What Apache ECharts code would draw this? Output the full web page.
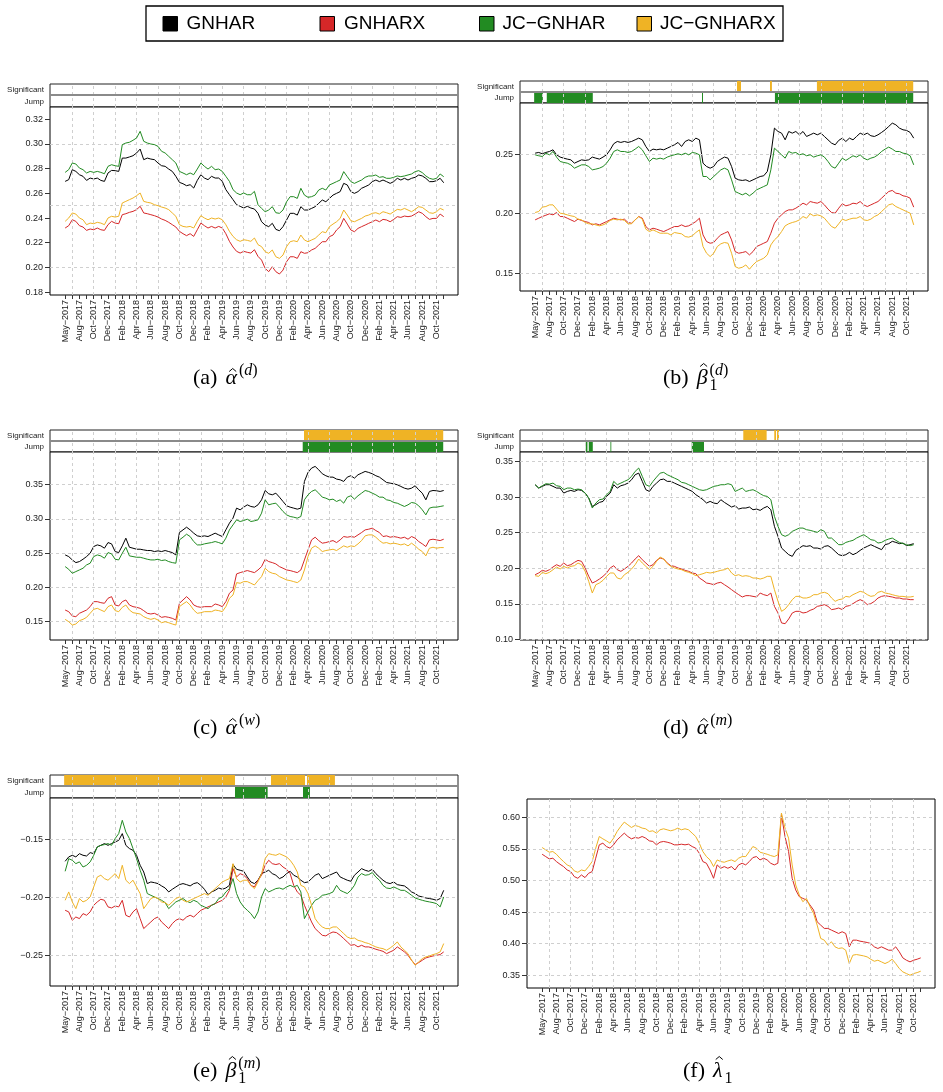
<!DOCTYPE html>
<html><head><meta charset="utf-8">
<script src="https://cdn.jsdelivr.net/npm/echarts@6/dist/echarts.min.js"></script>
<style>html,body{margin:0;padding:0;background:#fff}#chart{width:943px;height:1092px}</style>
</head><body><div id="chart"></div>
<script>
// ---------- time index: months after the "May-2017" tick, half-month steps ----------
const t = Array.from({length: 107}, (_, i) => i / 2);
const xLabels = ['May−2017','Aug−2017','Oct−2017','Dec−2017','Feb−2018','Apr−2018','Jun−2018','Aug−2018','Oct−2018','Dec−2018','Feb−2019','Apr−2019','Jun−2019','Aug−2019','Oct−2019','Dec−2019','Feb−2020','Apr−2020','Jun−2020','Aug−2020','Oct−2020','Dec−2020','Feb−2021','Apr−2021','Jun−2021','Aug−2021','Oct−2021'];
const tickMonths = Array.from({length: 54}, (_, i) => i);
const labelMonths = xLabels.map((_, i) => 2 * i);
const gridMonths = [1,4,7,10,13,16,19,22,25,28,31,34,37,40,43,46,49,52];

// ---------- (a) alpha^(d) ----------
const A_GNHAR = [0.2697,0.2711,0.2792,0.2778,0.2751,0.2738,0.2705,0.2724,0.2716,0.2724,0.2705,0.2697,0.2765,0.2786,0.2784,0.2778,0.2886,0.2886,0.2895,0.2905,0.2927,0.2959,0.2873,0.2886,0.2878,0.2873,0.2846,0.2824,0.2819,0.2797,0.2778,0.2738,0.2689,0.2678,0.2662,0.2670,0.2643,0.2705,0.2751,0.2724,0.2711,0.2738,0.2724,0.2724,0.2697,0.2630,0.2589,0.2549,0.2508,0.2495,0.2481,0.2495,0.2481,0.2473,
0.2438,0.2370,0.2343,0.2330,0.2357,0.2308,0.2297,0.2330,0.2384,0.2438,0.2438,0.2424,0.2492,0.2465,0.2465,0.2478,0.2492,0.2519,0.2546,0.2532,0.2559,0.2586,0.2600,0.2614,0.2681,0.2668,0.2614,0.2600,0.2614,0.2641,0.2654,0.2668,0.2695,0.2708,0.2695,0.2708,0.2695,0.2681,0.2695,0.2722,0.2708,0.2722,0.2708,0.2722,0.2730,0.2749,0.2741,0.2722,0.2695,0.2695,0.2703,0.2722,0.2686];
const A_GNHARX = [0.2319,0.2338,0.2386,0.2373,0.2338,0.2327,0.2300,0.2311,0.2305,0.2319,0.2305,0.2300,0.2346,0.2373,0.2359,0.2354,0.2427,0.2435,0.2446,0.2454,0.2468,0.2495,0.2441,0.2435,0.2427,0.2419,0.2408,0.2392,0.2381,0.2365,0.2346,0.2327,0.2292,0.2273,0.2257,0.2273,0.2251,0.2305,0.2359,0.2338,0.2319,0.2332,0.2319,0.2332,0.2319,0.2273,0.2211,0.2165,0.2130,0.2116,0.2130,0.2122,0.2116,0.2143,
0.2089,0.2059,0.1992,0.1965,0.2005,0.1965,0.1946,0.1978,0.2046,0.2086,0.2086,0.2073,0.2127,0.2114,0.2119,0.2141,0.2154,0.2181,0.2208,0.2208,0.2249,0.2262,0.2303,0.2330,0.2397,0.2351,0.2303,0.2289,0.2316,0.2330,0.2343,0.2357,0.2370,0.2384,0.2370,0.2389,0.2384,0.2370,0.2389,0.2411,0.2405,0.2416,0.2411,0.2416,0.2432,0.2451,0.2438,0.2411,0.2389,0.2397,0.2397,0.2432,0.2411];
const A_JC_GNHAR = [0.2770,0.2792,0.2846,0.2838,0.2805,0.2792,0.2765,0.2778,0.2770,0.2778,0.2770,0.2759,0.2819,0.2832,0.2824,0.2819,0.2995,0.3008,0.3014,0.3030,0.3049,0.3103,0.3022,0.3008,0.3000,0.2995,0.2981,0.2941,0.2927,0.2900,0.2873,0.2846,0.2778,0.2765,0.2751,0.2765,0.2751,0.2797,0.2846,0.2819,0.2797,0.2819,0.2792,0.2797,0.2778,0.2738,0.2697,0.2630,0.2603,0.2589,0.2603,0.2589,0.2589,0.2616,
0.2508,0.2478,0.2451,0.2465,0.2492,0.2443,0.2438,0.2465,0.2532,0.2573,0.2573,0.2559,0.2641,0.2586,0.2568,0.2573,0.2586,0.2627,0.2641,0.2627,0.2668,0.2681,0.2695,0.2708,0.2776,0.2735,0.2695,0.2681,0.2695,0.2708,0.2730,0.2741,0.2741,0.2749,0.2730,0.2735,0.2722,0.2722,0.2730,0.2741,0.2735,0.2741,0.2749,0.2757,0.2776,0.2784,0.2768,0.2741,0.2722,0.2714,0.2722,0.2757,0.2735];
const A_JC_GNHARX = [0.2373,0.2400,0.2441,0.2432,0.2400,0.2386,0.2346,0.2359,0.2354,0.2365,0.2359,0.2346,0.2400,0.2414,0.2408,0.2414,0.2522,0.2535,0.2549,0.2562,0.2581,0.2603,0.2535,0.2527,0.2522,0.2508,0.2500,0.2489,0.2481,0.2468,0.2441,0.2414,0.2346,0.2332,0.2327,0.2332,0.2319,0.2373,0.2419,0.2400,0.2386,0.2400,0.2392,0.2400,0.2386,0.2346,0.2292,0.2251,0.2224,0.2211,0.2224,0.2219,0.2211,0.2238,
0.2184,0.2168,0.2127,0.2114,0.2141,0.2086,0.2073,0.2100,0.2168,0.2208,0.2216,0.2208,0.2262,0.2222,0.2208,0.2222,0.2235,0.2262,0.2289,0.2281,0.2330,0.2351,0.2370,0.2397,0.2465,0.2424,0.2378,0.2370,0.2384,0.2397,0.2416,0.2424,0.2438,0.2443,0.2432,0.2451,0.2443,0.2432,0.2451,0.2470,0.2465,0.2478,0.2465,0.2451,0.2470,0.2492,0.2486,0.2465,0.2443,0.2438,0.2451,0.2478,0.2465];
const A_SIG = [];
const A_JUMP = [];

// ---------- (b) beta1^(d) ----------
const B_GNHAR = [0.2508,0.2514,0.2503,0.2514,0.2522,0.2536,0.2494,0.2475,0.2466,0.2458,0.2452,0.2424,0.2438,0.2452,0.2447,0.2452,0.2475,0.2466,0.2458,0.2475,0.2494,0.2536,0.2587,0.2606,0.2598,0.2606,0.2598,0.2606,0.2620,0.2634,0.2620,0.2564,0.2522,0.2542,0.2536,0.2542,0.2536,0.2550,0.2564,0.2578,0.2598,0.2564,0.2606,0.2620,0.2606,0.2634,0.2620,0.2424,0.2396,0.2382,0.2396,0.2438,0.2458,0.2475,0.2466,0.2396,0.2298,0.2284,0.2279,0.2284,0.2270,0.2284,0.2298,0.2312,0.2318,0.2354,0.2494,0.2718,0.2690,0.2676,0.2620,0.2690,0.2676,0.2690,0.2662,0.2690,0.2648,0.2662,0.2676,0.2662,0.2676,0.2648,0.2620,0.2592,0.2578,0.2615,0.2634,0.2606,0.2634,0.2620,0.2648,0.2676,0.2662,0.2676,0.2654,0.2648,0.2662,0.2682,0.2704,0.2732,0.2760,0.2746,0.2718,0.2704,0.2699,0.2682,0.2634];
const B_GNHARX = [0.1948,0.1962,0.1976,0.1987,0.1999,0.1990,0.2010,0.1976,0.1976,0.1962,0.1948,0.1934,0.1954,0.1943,0.1934,0.1926,0.1906,0.1915,0.1906,0.1920,0.1934,0.1948,0.1962,0.1954,0.1948,0.1954,0.1926,0.1920,0.1948,0.1976,0.1962,0.1892,0.1864,0.1878,0.1870,0.1859,0.1850,0.1864,0.1878,0.1892,0.1892,0.1906,0.1892,0.1898,0.1915,0.1934,0.1962,0.1822,0.1766,0.1752,0.1758,0.1794,0.1822,0.1836,0.1850,0.1780,0.1682,0.1668,0.1674,0.1682,0.1654,0.1682,0.1724,0.1738,0.1752,0.1766,0.1836,0.1920,0.1962,0.1990,0.2018,0.2032,0.2032,0.2046,0.2066,0.2088,0.2074,0.2102,0.2094,0.2088,0.2102,0.2074,0.2038,0.2010,0.2004,0.2046,0.2083,0.2066,0.2074,0.2088,0.2083,0.2102,0.2074,0.2060,0.2074,0.2088,0.2102,0.2130,0.2158,0.2186,0.2195,0.2172,0.2167,0.2150,0.2144,0.2130,0.2055];
const B_JC_GNHAR = [0.2494,0.2486,0.2480,0.2508,0.2494,0.2522,0.2475,0.2438,0.2430,0.2424,0.2410,0.2382,0.2396,0.2410,0.2410,0.2396,0.2368,0.2374,0.2382,0.2396,0.2424,0.2466,0.2522,0.2536,0.2522,0.2522,0.2514,0.2522,0.2542,0.2564,0.2536,0.2486,0.2438,0.2466,0.2458,0.2466,0.2458,0.2475,0.2486,0.2494,0.2503,0.2494,0.2508,0.2494,0.2514,0.2508,0.2494,0.2312,0.2312,0.2284,0.2312,0.2340,0.2368,0.2382,0.2368,0.2284,0.2186,0.2172,0.2158,0.2172,0.2150,0.2172,0.2200,0.2214,0.2228,0.2242,0.2368,0.2550,0.2522,0.2494,0.2466,0.2522,0.2508,0.2514,0.2494,0.2503,0.2486,0.2494,0.2475,0.2486,0.2494,0.2475,0.2438,0.2396,0.2382,0.2424,0.2466,0.2447,0.2466,0.2486,0.2475,0.2494,0.2466,0.2452,0.2466,0.2475,0.2494,0.2522,0.2542,0.2559,0.2542,0.2522,0.2522,0.2508,0.2503,0.2486,0.2410];
const B_JC_GNHARX = [0.2010,0.2018,0.2055,0.2060,0.2074,0.2074,0.2038,0.2004,0.1999,0.1990,0.1982,0.1976,0.1954,0.1948,0.1926,0.1915,0.1915,0.1906,0.1898,0.1906,0.1920,0.1943,0.1954,0.1948,0.1954,0.1943,0.1915,0.1915,0.1948,0.1976,0.1954,0.1870,0.1850,0.1864,0.1850,0.1836,0.1836,0.1836,0.1822,0.1842,0.1836,0.1831,0.1808,0.1803,0.1814,0.1842,0.1864,0.1724,0.1668,0.1640,0.1668,0.1724,0.1747,0.1758,0.1752,0.1668,0.1556,0.1542,0.1550,0.1570,0.1534,0.1570,0.1598,0.1612,0.1626,0.1654,0.1738,0.1780,0.1808,0.1850,0.1898,0.1915,0.1926,0.1934,0.1948,0.1976,0.1962,0.1999,0.1982,0.1990,0.1982,0.1962,0.1926,0.1892,0.1878,0.1915,0.1954,0.1943,0.1954,0.1962,0.1962,0.1976,0.1948,0.1943,0.1954,0.1976,0.1990,0.2018,0.2046,0.2074,0.2083,0.2060,0.2046,0.2032,0.2018,0.2004,0.1906];
const B_SIG = [[28.26,28.82],[32.88,33.15],[39.45,52.93]];
const B_JUMP = [[-0.14,1.08],[1.63,8.07],[23.36,23.5],[33.57,52.93]];

// ---------- (c) alpha^(w) ----------
const C_GNHAR = [0.2473,0.2449,0.2400,0.2361,0.2376,0.2410,0.2449,0.2498,0.2595,0.2619,0.2605,0.2571,0.2653,0.2634,0.2522,0.2507,0.2605,0.2717,0.2585,0.2571,0.2556,0.2556,0.2546,0.2537,0.2537,0.2522,0.2532,0.2522,0.2537,0.2522,0.2507,0.2473,0.2799,0.2838,0.2877,0.2838,0.2790,0.2751,0.2741,0.2751,0.2741,0.2765,0.2790,0.2765,0.2741,0.2838,0.2936,0.3009,0.3155,0.3130,0.3169,0.3203,0.3179,0.3169,0.3203,0.3276,0.3412,0.3364,0.3349,0.3373,0.3315,0.3252,0.3189,0.3169,0.3155,0.3140,0.3155,0.3544,0.3675,0.3738,0.3763,0.3714,0.3656,0.3627,0.3607,0.3607,0.3578,0.3568,0.3544,0.3607,0.3627,0.3592,0.3641,0.3665,0.3690,0.3675,0.3656,0.3627,0.3607,0.3568,0.3529,0.3519,0.3510,0.3495,0.3471,0.3446,0.3432,0.3446,0.3481,0.3422,0.3373,0.3276,0.3398,0.3412,0.3408,0.3398,0.3412];
const C_GNHARX = [0.1670,0.1646,0.1583,0.1573,0.1622,0.1646,0.1670,0.1719,0.1792,0.1792,0.1777,0.1768,0.1841,0.1865,0.1743,0.1729,0.1792,0.1816,0.1743,0.1719,0.1709,0.1695,0.1661,0.1622,0.1612,0.1622,0.1597,0.1563,0.1573,0.1563,0.1549,0.1524,0.1768,0.1816,0.1865,0.1816,0.1743,0.1719,0.1709,0.1719,0.1719,0.1719,0.1758,0.1743,0.1719,0.1792,0.1914,0.1962,0.2196,0.2215,0.2230,0.2245,0.2230,0.2215,0.2254,0.2303,0.2410,0.2376,0.2361,0.2342,0.2303,0.2279,0.2254,0.2245,0.2230,0.2215,0.2254,0.2400,0.2546,0.2692,0.2731,0.2682,0.2644,0.2653,0.2668,0.2682,0.2653,0.2692,0.2741,0.2731,0.2741,0.2731,0.2765,0.2799,0.2838,0.2848,0.2863,0.2828,0.2799,0.2741,0.2751,0.2731,0.2741,0.2731,0.2717,0.2731,0.2702,0.2741,0.2717,0.2668,0.2634,0.2595,0.2692,0.2702,0.2692,0.2682,0.2702];
const C_JC_GNHAR = [0.2303,0.2264,0.2206,0.2230,0.2254,0.2279,0.2327,0.2352,0.2449,0.2473,0.2459,0.2425,0.2507,0.2488,0.2410,0.2400,0.2498,0.2585,0.2459,0.2449,0.2439,0.2439,0.2425,0.2410,0.2400,0.2400,0.2410,0.2391,0.2400,0.2376,0.2361,0.2352,0.2692,0.2731,0.2775,0.2741,0.2668,0.2619,0.2619,0.2634,0.2644,0.2653,0.2668,0.2653,0.2634,0.2717,0.2838,0.2911,0.2984,0.2960,0.2974,0.2994,0.2960,0.2970,0.2984,0.3082,0.3276,0.3203,0.3218,0.3227,0.3169,0.3106,0.3057,0.3033,0.3023,0.3009,0.3033,0.3276,0.3349,0.3398,0.3422,0.3373,0.3315,0.3300,0.3276,0.3286,0.3252,0.3276,0.3227,0.3315,0.3335,0.3286,0.3335,0.3373,0.3412,0.3398,0.3373,0.3349,0.3315,0.3315,0.3276,0.3266,0.3237,0.3227,0.3203,0.3179,0.3203,0.3237,0.3227,0.3189,0.3130,0.3057,0.3155,0.3169,0.3169,0.3179,0.3189];
const C_JC_GNHARX = [0.1534,0.1500,0.1451,0.1466,0.1515,0.1534,0.1563,0.1622,0.1680,0.1695,0.1670,0.1646,0.1719,0.1743,0.1661,0.1646,0.1709,0.1743,0.1670,0.1631,0.1622,0.1612,0.1573,0.1549,0.1534,0.1549,0.1524,0.1485,0.1500,0.1485,0.1466,0.1451,0.1719,0.1758,0.1792,0.1743,0.1670,0.1622,0.1631,0.1646,0.1646,0.1646,0.1670,0.1661,0.1646,0.1719,0.1841,0.1889,0.2069,0.2060,0.2084,0.2084,0.2060,0.2035,0.2099,0.2157,0.2279,0.2230,0.2206,0.2196,0.2157,0.2133,0.2108,0.2099,0.2084,0.2069,0.2108,0.2254,0.2449,0.2571,0.2605,0.2571,0.2522,0.2537,0.2546,0.2556,0.2537,0.2571,0.2605,0.2585,0.2605,0.2595,0.2634,0.2682,0.2751,0.2765,0.2765,0.2731,0.2682,0.2644,0.2653,0.2634,0.2644,0.2634,0.2619,0.2634,0.2605,0.2644,0.2605,0.2556,0.2522,0.2459,0.2571,0.2585,0.2571,0.2580,0.2580];
const C_SIG = [[33.44,52.93]];
const C_JUMP = [[33.26,52.93]];

// ---------- (d) alpha^(m) ----------
const D_GNHAR = [0.3173,0.3126,0.3150,0.3173,0.3173,0.3150,0.3126,0.3126,0.3056,0.3079,0.3093,0.3079,0.3103,0.3093,0.3056,0.2986,0.2869,0.2893,0.2925,0.2939,0.3009,0.3056,0.3173,0.3126,0.3159,0.3173,0.3196,0.3243,0.3313,0.3336,0.3220,0.3103,0.3079,0.3150,0.3196,0.3243,0.3252,0.3220,0.3220,0.3196,0.3173,0.3150,0.3126,0.3103,0.3079,0.3033,0.3000,0.2963,0.2916,0.2939,0.2916,0.2907,0.2963,0.2925,0.2893,0.2860,0.2879,0.2832,0.2846,0.2846,0.2860,0.2822,0.2832,0.2813,0.2846,0.2869,0.2822,0.2589,0.2449,0.2285,0.2238,0.2192,0.2168,0.2252,0.2285,0.2318,0.2308,0.2318,0.2285,0.2285,0.2271,0.2308,0.2318,0.2285,0.2238,0.2192,0.2178,0.2192,0.2224,0.2192,0.2215,0.2252,0.2285,0.2308,0.2332,0.2308,0.2285,0.2262,0.2332,0.2346,0.2379,0.2364,0.2346,0.2355,0.2318,0.2332,0.2346];
const D_GNHARX = [0.1911,0.1935,0.1972,0.1958,0.1981,0.2019,0.2051,0.2028,0.2075,0.2037,0.2051,0.2084,0.2112,0.2098,0.2005,0.1888,0.1794,0.1818,0.1850,0.1888,0.1935,0.2005,0.2037,0.1981,0.1958,0.1991,0.2028,0.2075,0.2131,0.2178,0.2121,0.2075,0.2028,0.2051,0.2112,0.2145,0.2131,0.2075,0.2037,0.2028,0.2005,0.1991,0.1972,0.1958,0.1935,0.1925,0.1864,0.1832,0.1794,0.1785,0.1771,0.1794,0.1804,0.1771,0.1738,0.1701,0.1664,0.1631,0.1598,0.1617,0.1617,0.1607,0.1598,0.1654,0.1631,0.1617,0.1654,0.1467,0.1374,0.1234,0.1224,0.1290,0.1374,0.1397,0.1397,0.1374,0.1383,0.1411,0.1430,0.1467,0.1477,0.1491,0.1467,0.1421,0.1430,0.1444,0.1421,0.1467,0.1477,0.1505,0.1537,0.1561,0.1537,0.1491,0.1505,0.1537,0.1584,0.1607,0.1617,0.1607,0.1598,0.1584,0.1584,0.1570,0.1570,0.1561,0.1561];
const D_JC_GNHAR = [0.3173,0.3126,0.3159,0.3187,0.3182,0.3196,0.3159,0.3150,0.3103,0.3126,0.3126,0.3103,0.3112,0.3103,0.3056,0.2986,0.2846,0.2916,0.2963,0.2972,0.3033,0.3079,0.3220,0.3173,0.3196,0.3220,0.3243,0.3290,0.3360,0.3407,0.3290,0.3173,0.3150,0.3220,0.3280,0.3336,0.3346,0.3313,0.3290,0.3266,0.3243,0.3206,0.3196,0.3173,0.3150,0.3126,0.3103,0.3093,0.3103,0.3126,0.3150,0.3159,0.3173,0.3173,0.3187,0.3173,0.3079,0.3103,0.3126,0.3079,0.3093,0.3103,0.3079,0.3047,0.3019,0.3009,0.2963,0.2729,0.2589,0.2472,0.2449,0.2472,0.2519,0.2542,0.2565,0.2565,0.2542,0.2533,0.2519,0.2505,0.2542,0.2519,0.2425,0.2425,0.2379,0.2332,0.2332,0.2364,0.2379,0.2393,0.2425,0.2449,0.2472,0.2439,0.2402,0.2393,0.2355,0.2364,0.2393,0.2411,0.2425,0.2393,0.2364,0.2346,0.2332,0.2318,0.2332];
const D_JC_GNHARX = [0.1897,0.1888,0.1944,0.1925,0.1944,0.1981,0.2019,0.1991,0.2028,0.2005,0.2028,0.2037,0.2075,0.2051,0.1958,0.1818,0.1654,0.1771,0.1794,0.1832,0.1888,0.1935,0.1935,0.1864,0.1850,0.1911,0.1944,0.1991,0.2051,0.2131,0.2075,0.2028,0.1981,0.2028,0.2098,0.2159,0.2131,0.2065,0.2028,0.2005,0.1991,0.1981,0.1958,0.1944,0.1925,0.1897,0.1911,0.1925,0.1944,0.1935,0.1944,0.1958,0.1972,0.1981,0.2005,0.1935,0.1897,0.1911,0.1888,0.1897,0.1888,0.1864,0.1864,0.1850,0.1864,0.1888,0.1888,0.1701,0.1537,0.1397,0.1430,0.1491,0.1561,0.1607,0.1607,0.1584,0.1584,0.1598,0.1631,0.1631,0.1654,0.1664,0.1645,0.1584,0.1537,0.1561,0.1570,0.1607,0.1598,0.1631,0.1654,0.1678,0.1664,0.1631,0.1607,0.1617,0.1664,0.1678,0.1654,0.1645,0.1631,0.1617,0.1607,0.1607,0.1598,0.1598,0.1607];
const D_SIG = [[29.14,32.41],[33.48,33.72],[33.86,34.14]];
const D_JUMP = [[7.09,7.32],[7.51,8.07],[10.54,10.66],[21.92,23.64]];

// ---------- (e) beta1^(m) ----------
const E_GNHAR = [-0.1690,-0.1652,-0.1638,-0.1652,-0.1624,-0.1638,-0.1644,-0.1615,-0.1624,-0.1566,-0.1552,-0.1537,-0.1552,-0.1537,-0.1523,-0.1509,-0.1451,-0.1552,-0.1580,-0.1595,-0.1638,-0.1724,-0.1782,-0.1882,-0.1868,-0.1874,-0.1882,-0.1902,-0.1920,-0.1954,-0.1931,-0.1911,-0.1891,-0.1882,-0.1891,-0.1902,-0.1882,-0.1874,-0.1897,-0.1931,-0.1977,-0.1954,-0.1940,-0.1920,-0.1931,-0.1920,-0.1897,-0.1718,-0.1759,-0.1767,-0.1776,-0.1825,-0.1868,-0.1882,-0.1853,-0.1796,-0.1782,-0.1767,-0.1796,-0.1810,-0.1839,-0.1825,-0.1796,-0.1776,-0.1810,-0.1825,-0.1853,-0.1874,-0.1868,-0.1839,-0.1810,-0.1796,-0.1839,-0.1825,-0.1810,-0.1796,-0.1782,-0.1825,-0.1839,-0.1853,-0.1862,-0.1810,-0.1782,-0.1753,-0.1767,-0.1776,-0.1759,-0.1796,-0.1825,-0.1853,-0.1874,-0.1882,-0.1868,-0.1891,-0.1897,-0.1902,-0.1925,-0.1954,-0.1968,-0.1989,-0.1997,-0.2006,-0.2011,-0.2017,-0.2026,-0.2011,-0.1940];
const E_GNHARX = [-0.2112,-0.2126,-0.2198,-0.2170,-0.2184,-0.2141,-0.2155,-0.2126,-0.2069,-0.2040,-0.2017,-0.2026,-0.2083,-0.2092,-0.2075,-0.2083,-0.2026,-0.2155,-0.2170,-0.2126,-0.2098,-0.2184,-0.2270,-0.2241,-0.2213,-0.2184,-0.2170,-0.2213,-0.2241,-0.2270,-0.2227,-0.2198,-0.2184,-0.2198,-0.2170,-0.2155,-0.2170,-0.2141,-0.2112,-0.2098,-0.2083,-0.2069,-0.2055,-0.2040,-0.2026,-0.1997,-0.1940,-0.1753,-0.1825,-0.1796,-0.1810,-0.1839,-0.1897,-0.1911,-0.1853,-0.1810,-0.1724,-0.1681,-0.1710,-0.1718,-0.1710,-0.1739,-0.1759,-0.1796,-0.1897,-0.1954,-0.1983,-0.2069,-0.2141,-0.2213,-0.2270,-0.2299,-0.2328,-0.2333,-0.2313,-0.2299,-0.2305,-0.2328,-0.2356,-0.2385,-0.2414,-0.2408,-0.2428,-0.2414,-0.2428,-0.2428,-0.2437,-0.2448,-0.2457,-0.2466,-0.2486,-0.2471,-0.2457,-0.2428,-0.2448,-0.2471,-0.2500,-0.2543,-0.2580,-0.2563,-0.2543,-0.2523,-0.2514,-0.2506,-0.2500,-0.2494,-0.2471];
const E_JC_GNHAR = [-0.1776,-0.1667,-0.1681,-0.1710,-0.1695,-0.1739,-0.1724,-0.1695,-0.1638,-0.1566,-0.1552,-0.1546,-0.1537,-0.1552,-0.1494,-0.1451,-0.1336,-0.1437,-0.1494,-0.1580,-0.1667,-0.1767,-0.1853,-0.1968,-0.1983,-0.1997,-0.2011,-0.2026,-0.2046,-0.2098,-0.2069,-0.2040,-0.2026,-0.2011,-0.2034,-0.2046,-0.2026,-0.2040,-0.2069,-0.2083,-0.2098,-0.2069,-0.2055,-0.2011,-0.1997,-0.1954,-0.1925,-0.1839,-0.1968,-0.2040,-0.2083,-0.2112,-0.2141,-0.2184,-0.2126,-0.1997,-0.1925,-0.1954,-0.1940,-0.1925,-0.1920,-0.1931,-0.1911,-0.1897,-0.1911,-0.1897,-0.1954,-0.2184,-0.2126,-0.2069,-0.2026,-0.2011,-0.1983,-0.1977,-0.1968,-0.1954,-0.1897,-0.1940,-0.1954,-0.1968,-0.1940,-0.1897,-0.1825,-0.1796,-0.1810,-0.1805,-0.1787,-0.1825,-0.1853,-0.1897,-0.1920,-0.1925,-0.1911,-0.1925,-0.1940,-0.1940,-0.1960,-0.1983,-0.2006,-0.2017,-0.2026,-0.2034,-0.2040,-0.2046,-0.2055,-0.2083,-0.1997];
const E_JC_GNHARX = [-0.2026,-0.1954,-0.2040,-0.2098,-0.2011,-0.2040,-0.2026,-0.1997,-0.1911,-0.1825,-0.1810,-0.1839,-0.1853,-0.1825,-0.1796,-0.1839,-0.1724,-0.1853,-0.1882,-0.1853,-0.1911,-0.1968,-0.2098,-0.2055,-0.2011,-0.1997,-0.2011,-0.2040,-0.2046,-0.2069,-0.2040,-0.2011,-0.1997,-0.2026,-0.2040,-0.2026,-0.2011,-0.1997,-0.1983,-0.1968,-0.1983,-0.1954,-0.1925,-0.1897,-0.1868,-0.1853,-0.1839,-0.1710,-0.1839,-0.1868,-0.1853,-0.1853,-0.1897,-0.1925,-0.1868,-0.1796,-0.1667,-0.1624,-0.1632,-0.1638,-0.1624,-0.1638,-0.1652,-0.1681,-0.1724,-0.1782,-0.1897,-0.1911,-0.1968,-0.2069,-0.2184,-0.2227,-0.2256,-0.2270,-0.2270,-0.2256,-0.2256,-0.2284,-0.2313,-0.2342,-0.2356,-0.2351,-0.2371,-0.2379,-0.2391,-0.2399,-0.2414,-0.2428,-0.2437,-0.2443,-0.2457,-0.2437,-0.2414,-0.2385,-0.2428,-0.2457,-0.2486,-0.2543,-0.2586,-0.2557,-0.2529,-0.2514,-0.2506,-0.2494,-0.2486,-0.2471,-0.2399];
const E_SIG = [[-0.14,23.78],[28.82,33.58],[33.86,37.77]];
const E_JUMP = [[23.78,28.35],[33.3,34.27]];

// ---------- (f) lambda1 ----------
const F_GNHARX = [0.5417,0.5380,0.5343,0.5354,0.5301,0.5258,0.5221,0.5168,0.5142,0.5063,0.5036,0.5089,0.5047,0.5115,0.5142,0.5354,0.5566,0.5592,0.5539,0.5513,0.5566,0.5645,0.5698,0.5751,0.5698,0.5661,0.5682,0.5672,0.5698,0.5672,0.5629,0.5619,0.5566,0.5608,0.5619,0.5608,0.5592,0.5566,0.5566,0.5576,0.5566,0.5576,0.5539,0.5513,0.5433,0.5301,0.5274,0.5168,0.5036,0.5248,0.5195,0.5221,0.5195,0.5221,0.5168,0.5248,0.5274,0.5248,0.5301,0.5364,0.5380,0.5327,0.5354,0.5327,0.5274,0.5248,0.5274,0.6042,0.5698,0.5460,0.5036,0.4851,0.4745,0.4718,0.4692,0.4612,0.4533,0.4347,0.4294,0.4242,0.4242,0.4215,0.4189,0.4162,0.4189,0.4162,0.3950,0.4056,0.4056,0.4040,0.4030,0.4019,0.4003,0.3950,0.3924,0.3950,0.3924,0.3897,0.3897,0.3950,0.3871,0.3775,0.3738,0.3712,0.3738,0.3754,0.3775];
const F_JC_GNHARX = [0.5523,0.5486,0.5449,0.5460,0.5417,0.5354,0.5301,0.5248,0.5221,0.5153,0.5131,0.5168,0.5153,0.5221,0.5301,0.5513,0.5698,0.5661,0.5629,0.5592,0.5672,0.5778,0.5857,0.5926,0.5883,0.5841,0.5873,0.5857,0.5831,0.5820,0.5778,0.5788,0.5751,0.5804,0.5820,0.5804,0.5788,0.5804,0.5831,0.5804,0.5820,0.5804,0.5751,0.5698,0.5592,0.5460,0.5380,0.5327,0.5221,0.5327,0.5301,0.5290,0.5311,0.5327,0.5301,0.5354,0.5380,0.5380,0.5460,0.5539,0.5513,0.5449,0.5433,0.5417,0.5396,0.5380,0.5407,0.6069,0.5831,0.5672,0.5248,0.4930,0.4771,0.4665,0.4718,0.4586,0.4480,0.4295,0.4083,0.4056,0.3977,0.4030,0.3950,0.3924,0.3934,0.3897,0.3685,0.3818,0.3828,0.3818,0.3807,0.3791,0.3754,0.3722,0.3738,0.3712,0.3685,0.3712,0.3754,0.3685,0.3606,0.3553,0.3527,0.3500,0.3527,0.3542,0.3564];

// ---------- styling ----------
const COLORS = {'GNHAR':'#000000','GNHARX':'#D62728','JC−GNHAR':'#228B22','JC−GNHARX':'#EFB325'};
const FONT = 'Liberation Sans';
const SERIF = '"Liberation Serif"';
const X_MIN = -2.12, X_MAX = 55.0;

const panels = [
  {left:50, top:107, width:408, height:188, strip:{top:84, r1:11}, y:[0.1776,0.3300],
   yTicks:[0.18,0.20,0.22,0.24,0.26,0.28,0.30,0.32], yGrid:[0.20,0.25,0.30],
   lines:[['GNHAR',A_GNHAR],['GNHARX',A_GNHARX],['JC−GNHAR',A_JC_GNHAR],['JC−GNHARX',A_JC_GNHARX]],
   sig:A_SIG, jump:A_JUMP, cap:{x:193, cy:378, tag:'(a)', sym:'α', sup:'d', sub:null}},
  {left:520, top:103, width:408, height:188, strip:{top:81, r1:11}, y:[0.1351,0.2929],
   yTicks:[0.15,0.20,0.25], yGrid:[0.15,0.20,0.25],
   lines:[['GNHAR',B_GNHAR],['GNHARX',B_GNHARX],['JC−GNHAR',B_JC_GNHAR],['JC−GNHARX',B_JC_GNHARX]],
   sig:B_SIG, jump:B_JUMP, cap:{x:663, cy:378, tag:'(b)', sym:'β', sup:'d', sub:'1'}},
  {left:50, top:452, width:408, height:188, strip:{top:430, r1:11}, y:[0.1233,0.3973],
   yTicks:[0.15,0.20,0.25,0.30,0.35], yGrid:[0.15,0.20,0.25,0.30,0.35],
   lines:[['GNHAR',C_GNHAR],['GNHARX',C_GNHARX],['JC−GNHAR',C_JC_GNHAR],['JC−GNHARX',C_JC_GNHARX]],
   sig:C_SIG, jump:C_JUMP, cap:{x:193, cy:728, tag:'(c)', sym:'α', sup:'w', sub:null}},
  {left:520, top:452, width:408, height:188, strip:{top:430, r1:11}, y:[0.0995,0.3632],
   yTicks:[0.10,0.15,0.20,0.25,0.30,0.35], yGrid:[0.10,0.15,0.20,0.25,0.30,0.35],
   lines:[['GNHAR',D_GNHAR],['GNHARX',D_GNHARX],['JC−GNHAR',D_JC_GNHAR],['JC−GNHARX',D_JC_GNHARX]],
   sig:D_SIG, jump:D_JUMP, cap:{x:663, cy:728, tag:'(d)', sym:'α', sup:'m', sub:null}},
  {left:50, top:798, width:408, height:188, strip:{top:775, r1:11}, y:[-0.2765,-0.1144],
   yTicks:[-0.25,-0.20,-0.15], yGrid:[-0.25,-0.20,-0.15],
   lines:[['GNHAR',E_GNHAR],['GNHARX',E_GNHARX],['JC−GNHAR',E_JC_GNHAR],['JC−GNHARX',E_JC_GNHARX]],
   sig:E_SIG, jump:E_JUMP, cap:{x:193, cy:1071, tag:'(e)', sym:'β', sup:'m', sub:'1'}},
  {left:527, top:799, width:408, height:189, strip:null, y:[0.3298,0.6292],
   yTicks:[0.35,0.40,0.45,0.50,0.55,0.60], yGrid:[0.35,0.40,0.45,0.50,0.55,0.60],
   lines:[['GNHARX',F_GNHARX],['JC−GNHARX',F_JC_GNHARX]],
   sig:null, jump:null, cap:{x:683, cy:1071, tag:'(f)', sym:'λ', sup:null, sub:'1'}}
];

const grids = [], xAxes = [], yAxes = [], series = [], graphics = [];
const fmtY = v => (v < 0 ? '\u2212' : '') + Math.abs(v).toFixed(2);
const dash = {type:[3,3], color:'#cfcfcf', width:1};

function addCoord(grid, xa, ya) {
  grids.push(grid);
  const i = grids.length - 1;
  xAxes.push(Object.assign({gridIndex:i}, xa));
  yAxes.push(Object.assign({gridIndex:i}, ya));
  return i;
}

function addStrip(p, top, height, bands, color) {
  const i = addCoord(
    {left:p.left, top:top, width:p.width, height:height, show:true, borderColor:'#222', borderWidth:1, backgroundColor:'#fff'},
    {type:'value', min:X_MIN, max:X_MAX, show:false, axisLine:{onZero:false}},
    {type:'value', min:0, max:1, show:false, axisLine:{onZero:false}});
  series.push({type:'line', xAxisIndex:i, yAxisIndex:i, data:[], z:1, silent:true,
    markLine:{silent:true, symbol:'none', label:{show:false}, lineStyle:dash, data:gridMonths.map(m => ({xAxis:m}))}});
  if (bands && bands.length) {
    series.push({type:'line', xAxisIndex:i, yAxisIndex:i, data:[], z:2, silent:true,
      markArea:{silent:true, itemStyle:{color:color, opacity:1}, data:bands.map(b => [{xAxis:b[0]},{xAxis:b[1]}])}});
  }
}

panels.forEach(p => {
  if (p.strip) {
    const s = p.strip;
    addStrip(p, s.top, s.r1, p.sig, COLORS['JC−GNHARX']);
    addStrip(p, s.top + s.r1, p.top - s.top - s.r1, p.jump, COLORS['JC−GNHAR']);
    graphics.push({type:'rect', z:100, shape:{x:p.left, y:s.top + s.r1 - 1, width:p.width, height:2}, style:{fill:'#8a8a8a'}});
    graphics.push({type:'text', z:100, x:p.left - 6, y:s.top + s.r1 / 2 + 0.5,
      style:{text:'Significant', fontSize:8, fontFamily:FONT, fill:'#222', align:'right', verticalAlign:'middle', textAlign:'right', textVerticalAlign:'middle'}});
    graphics.push({type:'text', z:100, x:p.left - 6, y:(s.top + s.r1 + p.top) / 2 + 0.5,
      style:{text:'Jump', fontSize:8, fontFamily:FONT, fill:'#222', align:'right', verticalAlign:'middle', textAlign:'right', textVerticalAlign:'middle'}});
  }
  const i = addCoord(
    {left:p.left, top:p.top, width:p.width, height:p.height, show:true, borderColor:'#000', borderWidth:1, backgroundColor:'#fff'},
    {type:'value', min:X_MIN, max:X_MAX, position:'bottom', axisLine:{show:false, onZero:false},
     axisTick:{show:true, customValues:tickMonths, length:4, lineStyle:{color:'#333', width:1}},
     axisLabel:{show:true, customValues:labelMonths, formatter:v => xLabels[Math.round(v / 2)], rotate:90, margin:5, fontSize:9, color:'#222', fontFamily:FONT},
     splitLine:{show:false}},
    {type:'value', min:p.y[0], max:p.y[1], position:'left', axisLine:{show:false, onZero:false},
     axisTick:{show:true, customValues:p.yTicks, length:5, lineStyle:{color:'#333', width:1}},
     axisLabel:{show:true, customValues:p.yTicks, formatter:fmtY, margin:7, fontSize:9, color:'#222', fontFamily:FONT},
     splitLine:{show:false}});
  series.push({type:'line', xAxisIndex:i, yAxisIndex:i, data:[], z:1, silent:true,
    markLine:{silent:true, symbol:'none', label:{show:false}, lineStyle:dash,
      data:[...gridMonths.map(m => ({xAxis:m})), ...p.yGrid.map(v => ({yAxis:v}))]}});
  p.lines.forEach(([name, arr], k) => {
    series.push({type:'line', name:name, xAxisIndex:i, yAxisIndex:i, z:3 + k, silent:true,
      data:t.map((x, j) => [x, arr[j]]), showSymbol:false, symbol:'none',
      lineStyle:{color:COLORS[name], width:1}, itemStyle:{color:COLORS[name]}, emphasis:{disabled:true}});
  });
});

// ---------- legend (drawn as graphic) ----------
graphics.push({type:'rect', z:100, shape:{x:146, y:6, width:637, height:35}, style:{fill:'none', stroke:'#000', lineWidth:1.3}});
const legendItems = [['GNHAR',163,186.5],['GNHARX',320,344],['JC−GNHAR',479.5,502.5],['JC−GNHARX',637,660]];
legendItems.forEach(([name, sx, tx]) => {
  graphics.push({type:'rect', z:100, shape:{x:sx, y:16.5, width:14.5, height:14.5}, style:{fill:COLORS[name], stroke:'#000', lineWidth:1}});
  graphics.push({type:'text', z:100, x:tx, y:24, style:{text:name, fontSize:19, fontFamily:FONT, fill:'#000', align:'left', verticalAlign:'middle', textAlign:'left', textVerticalAlign:'middle'}});
});

// ---------- captions ----------
const mctx = document.createElement('canvas').getContext('2d');
function tw(text, font) { mctx.font = font; return mctx.measureText(text).width; }
panels.forEach(p => {
  const c = p.cap;
  const big = 22, small = 16;
  const fTag = big + 'px ' + SERIF, fSym = 'italic ' + big + 'px ' + SERIF;
  const fS = small + 'px ' + SERIF;
  let x = c.x;
  graphics.push({type:'text', z:100, x:x, y:c.cy, style:{text:c.tag, font:fTag, fill:'#000', align:'left', verticalAlign:'middle', textAlign:'left', textVerticalAlign:'middle'}});
  x += tw(c.tag, fTag) + 8;
  const wSym = tw(c.sym, fSym);
  graphics.push({type:'text', z:100, x:x, y:c.cy, style:{text:c.sym, font:fSym, fill:'#000', align:'left', verticalAlign:'middle', textAlign:'left', textVerticalAlign:'middle'}});
  const asc = c.sym !== 'α';
  const hx = x + wSym / 2 + 1.5, hy = c.cy - (asc ? 14 : 9);
  graphics.push({type:'polyline', z:100, shape:{points:[[hx - 3.5, hy + 2.5], [hx, hy - 0.5], [hx + 3.5, hy + 2.5]]}, style:{stroke:'#000', lineWidth:1, fill:'none'}});
  x += wSym + 2;
  if (c.sup) {
    graphics.push({type:'text', z:100, x:x, y:c.cy - 7, style:{text:'{p|(}{i|' + c.sup + '}{p|)}', fill:'#000', align:'left', verticalAlign:'middle',
      rich:{p:{fontSize:small, fontFamily:'Liberation Serif', fill:'#000'}, i:{fontSize:small, fontFamily:'Liberation Serif', fontStyle:'italic', fill:'#000'}}}});
  }
  if (c.sub) {
    graphics.push({type:'text', z:100, x:x, y:c.cy + 8, style:{text:c.sub, font:fS, fill:'#000', align:'left', verticalAlign:'middle', textAlign:'left', textVerticalAlign:'middle'}});
  }
});

const chart = echarts.init(document.getElementById('chart'), null, {renderer:'canvas'});
chart.setOption({
  animation:false,
  backgroundColor:'#fff',
  grid:grids, xAxis:xAxes, yAxis:yAxes, series:series,
  graphic:{elements:graphics}
});
</script>
</body></html>
